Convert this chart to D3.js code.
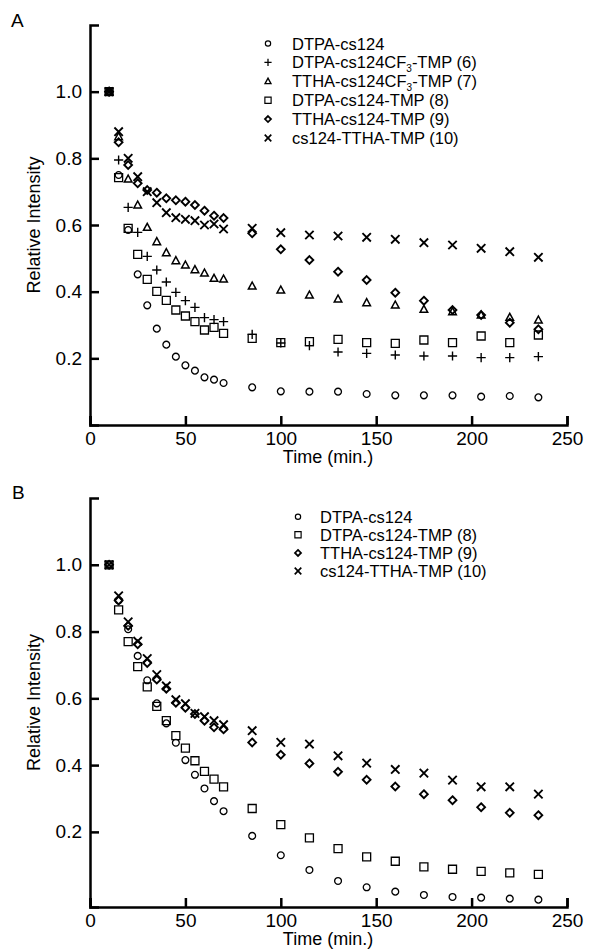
<!DOCTYPE html>
<html><head><meta charset="utf-8">
<script src="https://cdn.jsdelivr.net/npm/d3@7"></script>
<style>
body{margin:0;background:#fff}
svg{display:block}
text{font-family:"Liberation Sans",Arial,Helvetica,sans-serif;fill:#000}
</style>
</head><body>
<svg id="chart" width="592" height="952"></svg>
<script>
// ---------- data ----------
const times = [10,15,20,25,30,35,40,45,50,55,60,65,70,85,100,115,130,145,160,175,190,205,220,235];

// Panel A
const a_DTPA_cs124      = [1.0,0.75,0.585,0.452,0.359,0.289,0.241,0.205,0.179,0.163,0.143,0.136,0.126,0.113,0.101,0.100,0.100,0.093,0.089,0.089,0.089,0.085,0.087,0.083];
const a_DTPA_CF3_TMP_6  = [1.0,0.795,0.653,0.578,0.506,0.465,0.429,0.398,0.373,0.353,0.322,0.316,0.310,0.272,0.246,0.238,0.219,0.215,0.210,0.207,0.207,0.202,0.202,0.205];
const a_TTHA_CF3_TMP_7  = [1.0,0.865,0.738,0.660,0.593,0.550,0.517,0.493,0.480,0.466,0.456,0.440,0.438,0.417,0.405,0.390,0.378,0.367,0.360,0.347,0.340,0.330,0.323,0.315];
const a_DTPA_TMP_8      = [1.0,0.742,0.590,0.512,0.437,0.401,0.374,0.345,0.327,0.310,0.285,0.293,0.275,0.260,0.247,0.250,0.257,0.247,0.245,0.255,0.247,0.267,0.247,0.270];
const a_TTHA_TMP_9      = [1.0,0.848,0.780,0.725,0.705,0.697,0.680,0.674,0.670,0.660,0.643,0.628,0.621,0.575,0.527,0.495,0.460,0.435,0.397,0.373,0.345,0.330,0.307,0.287];
const a_cs124_TTHA_10   = [1.0,0.880,0.800,0.745,0.700,0.667,0.637,0.622,0.617,0.613,0.600,0.603,0.588,0.590,0.577,0.570,0.567,0.563,0.557,0.547,0.540,0.530,0.520,0.503];

// Panel B
const b_DTPA_cs124      = [1.0,0.893,0.807,0.727,0.654,0.585,0.525,0.467,0.415,0.371,0.330,0.292,0.262,0.188,0.130,0.086,0.053,0.034,0.021,0.011,0.005,0.003,0.000,-0.003];
const b_DTPA_TMP_8      = [1.0,0.865,0.770,0.695,0.634,0.576,0.533,0.488,0.451,0.413,0.381,0.358,0.335,0.270,0.222,0.182,0.150,0.125,0.112,0.095,0.088,0.082,0.077,0.073];
const b_TTHA_TMP_9      = [1.0,0.893,0.817,0.762,0.706,0.656,0.629,0.587,0.572,0.553,0.533,0.513,0.507,0.468,0.431,0.405,0.380,0.356,0.336,0.313,0.295,0.274,0.257,0.250];
const b_cs124_TTHA_10   = [1.0,0.907,0.829,0.771,0.719,0.671,0.637,0.596,0.584,0.555,0.545,0.533,0.521,0.503,0.468,0.463,0.428,0.406,0.387,0.376,0.355,0.335,0.335,0.313];

// labels (odd index parts are subscripts)
const labelsA = [
  ["DTPA-cs124"],
  ["DTPA-cs124CF","3","-TMP (6)"],
  ["TTHA-cs124CF","3","-TMP (7)"],
  ["DTPA-cs124-TMP (8)"],
  ["TTHA-cs124-TMP (9)"],
  ["cs124-TTHA-TMP (10)"]
];
const labelsB = [
  ["DTPA-cs124"],
  ["DTPA-cs124-TMP (8)"],
  ["TTHA-cs124-TMP (9)"],
  ["cs124-TTHA-TMP (10)"]
];
const xTickValues = [0,50,100,150,200,250];
const yTickValues = [0.2,0.4,0.6,0.8,1.0];
const xTitle = "Time (min.)";
const yTitle = "Relative Intensity";

// ---------- symbols ----------
const S = {
  circle:  {draw(c,r){c.moveTo(r,0);c.arc(0,0,r,0,2*Math.PI);c.closePath();}},
  square:  {draw(c,r){c.rect(-r,-r,2*r,2*r);}},
  triangle:{draw(c,r){c.moveTo(0,-r*1.05);c.lineTo(r,r*0.8);c.lineTo(-r,r*0.8);c.closePath();}},
  diamond: {draw(c,r){c.moveTo(0,-r);c.lineTo(r,0);c.lineTo(0,r);c.lineTo(-r,0);c.closePath();}},
  plus:    {draw(c,r){c.moveTo(-r,0);c.lineTo(r,0);c.moveTo(0,-r);c.lineTo(0,r);}},
  cross:   {draw(c,r){c.moveTo(-r,-r);c.lineTo(r,r);c.moveTo(-r,r);c.lineTo(r,-r);}}
};
const style = {
  circle:  {r:3.4, sw:1.3},
  square:  {r:4.0, sw:1.3},
  triangle:{r:3.8, sw:1.5},
  diamond: {r:3.9, sw:1.9},
  plus:    {r:4.6, sw:1.4},
  cross:   {r:4.2, sw:1.9}
};

const seriesA = [
  {shape:"circle",  values:a_DTPA_cs124,     label:labelsA[0]},
  {shape:"plus",    values:a_DTPA_CF3_TMP_6, label:labelsA[1]},
  {shape:"triangle",values:a_TTHA_CF3_TMP_7, label:labelsA[2]},
  {shape:"square",  values:a_DTPA_TMP_8,     label:labelsA[3]},
  {shape:"diamond", values:a_TTHA_TMP_9,     label:labelsA[4]},
  {shape:"cross",   values:a_cs124_TTHA_10,  label:labelsA[5]}
];
const seriesB = [
  {shape:"circle",  values:b_DTPA_cs124,     label:labelsB[0]},
  {shape:"square",  values:b_DTPA_TMP_8,     label:labelsB[1]},
  {shape:"diamond", values:b_TTHA_TMP_9,     label:labelsB[2]},
  {shape:"cross",   values:b_cs124_TTHA_10,  label:labelsB[3]}
];

const svg = d3.select("#chart");
const x = d3.scaleLinear().domain([0,250]).range([90,567]);

function panel(opts){
  const g = svg.append("g");
  const y = d3.scaleLinear().domain(opts.yDomain).range(opts.yRange);
  const yBottom = opts.yRange[0];

  // data points
  opts.series.forEach(s=>{
    const st = style[s.shape];
    g.append("g").selectAll("path").data(times.map((t,i)=>[t,s.values[i]])).join("path")
      .attr("transform",d=>`translate(${x(d[0])},${y(d[1])})`)
      .attr("d",d3.symbol().type(S[s.shape]).size(st.r))
      .attr("fill","none").attr("stroke","#000").attr("stroke-width",st.sw);
  });

  // axes
  const xa = g.append("g").attr("transform",`translate(0,${yBottom})`)
    .call(d3.axisBottom(x).tickValues(xTickValues).tickSizeInner(-9).tickSizeOuter(-9).tickPadding(7));
  const ya = g.append("g").attr("transform",`translate(90,0)`)
    .call(d3.axisLeft(y).tickValues(yTickValues).tickFormat(d3.format(".1f")).tickSizeInner(-9).tickSizeOuter(-9).tickPadding(8));
  [xa,ya].forEach(a=>{
    a.selectAll("path,line").attr("stroke","#000").attr("stroke-width",2.5);
    a.selectAll("text").attr("font-size",19).attr("font-family","Liberation Sans, Arial, sans-serif");
  });

  // titles
  g.append("text").attr("x",328).attr("y",yBottom+38).attr("text-anchor","middle")
    .attr("font-size",18).text(xTitle);
  const yc = (opts.yRange[0]+opts.yRange[1])/2;
  g.append("text").attr("transform",`translate(40,${yc}) rotate(-90)`).attr("text-anchor","middle")
    .attr("font-size",18).text(yTitle);
  g.append("text").attr("x",opts.letterX).attr("y",opts.letterY).attr("font-size",19).text(opts.letter);

  // legend
  const lg = g.append("g");
  opts.series.forEach((s,i)=>{
    const cy = opts.legY0 + i*opts.legDy;
    const st = style[s.shape];
    lg.append("path").attr("transform",`translate(${opts.legSymX},${cy})`)
      .attr("d",d3.symbol().type(S[s.shape]).size(st.r*0.78))
      .attr("fill","none").attr("stroke","#000").attr("stroke-width",st.sw*0.9);
    const t = lg.append("text").attr("x",opts.legTextX).attr("y",cy+6).attr("font-size",16.5);
    s.label.forEach((part,k)=>{
      if(k%2===1){
        t.append("tspan").attr("font-size",10).attr("dy",4).text(part);
      } else {
        t.append("tspan").attr("dy",k>0?-4:0).text(part);
      }
    });
  });
}

panel({series:seriesA, yDomain:[0,1.2], yRange:[425,25], letter:"A", letterX:11, letterY:27,
       legSymX:268, legTextX:292, legY0:43.5, legDy:18.9});
panel({series:seriesB, yDomain:[-0.025,1.2], yRange:[907,498], letter:"B", letterX:12, letterY:499,
       legSymX:298, legTextX:320, legY0:516.7, legDy:18.1});
</script>
</body></html>
